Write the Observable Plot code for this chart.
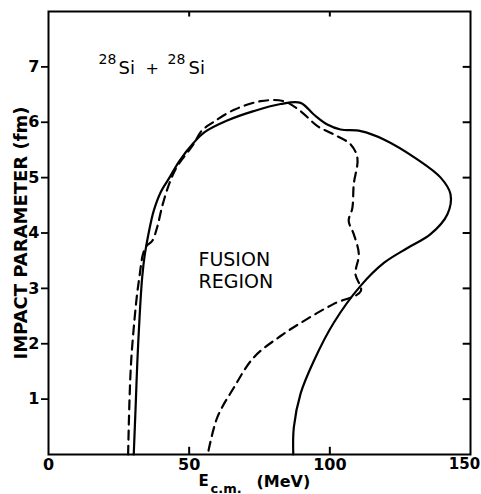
<!DOCTYPE html>
<html><head><meta charset="utf-8">
<script src="https://cdn.jsdelivr.net/npm/d3@7"></script>
<script src="https://cdn.jsdelivr.net/npm/@observablehq/plot@0.6"></script>
<style>body{margin:0;background:#fff}</style>
</head><body><div id="chart"></div>
<script>
// Tick values
const xTicks = [0, 50, 100, 150];
const yTicks = [1, 2, 3, 4, 5, 6, 7];

// Solid curve (E_cm in MeV, impact parameter in fm), in drawing order
const solidE = [30.3, 31.0, 31.6, 32.5, 33.3, 34.2, 35.6, 37.4, 40.0, 43.0, 46.5, 51.6, 55.5, 63.5, 72.9, 82.5, 89.6, 94.3, 99.1, 103.8, 111.0, 119.2, 131.1, 139.4, 142.9, 141.8, 135.8, 127.6, 119.2, 111.0, 101.4, 94.3, 89.6, 87.2, 87.0];
const solidB = [0.0, 0.9, 1.7, 2.6, 3.2, 3.6, 4.0, 4.4, 4.75, 5.0, 5.3, 5.63, 5.82, 6.03, 6.2, 6.33, 6.35, 6.14, 5.96, 5.87, 5.84, 5.69, 5.33, 5.0, 4.7, 4.34, 3.98, 3.73, 3.46, 3.05, 2.38, 1.69, 1.1, 0.49, 0.0];

// Dashed curve, in drawing order
const dashE = [28.3, 28.8, 29.4, 30.5, 31.5, 32.3, 33.5, 34.6, 36.9, 38.6, 40.5, 43.0, 45.7, 51.5, 54.5, 58.5, 65.8, 75.4, 83.6, 89.6, 95.6, 101.4, 107.4, 109.8, 108.5, 108.0, 106.7, 108.5, 110.3, 109.1, 111.0, 101.4, 92.0, 82.5, 72.9, 65.8, 60.0, 56.6];
const dashB = [0.0, 1.0, 1.7, 2.4, 2.9, 3.2, 3.6, 3.75, 3.86, 4.1, 4.5, 4.9, 5.2, 5.6, 5.85, 6.0, 6.22, 6.38, 6.38, 6.2, 5.93, 5.78, 5.6, 5.35, 4.88, 4.45, 4.22, 3.98, 3.62, 3.26, 2.95, 2.72, 2.45, 2.14, 1.75, 1.2, 0.67, 0.0];

// Text
const xLabelMain = "E";
const xLabelSub = "c.m.";
const xLabelUnit = "(MeV)";
const yLabel = "IMPACT PARAMETER (fm)";
const regionLines = ["FUSION", "REGION"];
const regionAt = [{e: 53.3, b: 3.41}, {e: 53.3, b: 3.01}];
const reactionParts = ["28", "Si", "+", "28", "Si"];
const reactionSup = [true, false, false, true, false];
const reactionAt = {e: 17.8, b: 6.865};

const solid = solidE.map((e, i) => ({e, b: solidB[i]}));
const dashed = dashE.map((e, i) => ({e, b: dashB[i]}));

const font = "DejaVu Sans, Verdana, sans-serif";
const partOffsets = [0, 20, 47, 69, 90];

const reactionMarks = reactionParts.map((t, i) =>
  Plot.text([t], {x: reactionAt.e, y: reactionAt.b, text: d => d, textAnchor: "start", lineAnchor: "bottom",
    dx: partOffsets[i], dy: reactionSup[i] ? -10 : 0, fontSize: reactionSup[i] ? 14 : (t === "+" ? 16 : 18)})
);
const regionMarks = regionLines.map((t, i) =>
  Plot.text([t], {x: regionAt[i].e, y: regionAt[i].b, text: d => d, textAnchor: "start", lineAnchor: "bottom", fontSize: 19})
);

const plot = Plot.plot({
  width: 481,
  height: 494,
  marginTop: 11,
  marginRight: 11,
  marginBottom: 40,
  marginLeft: 48,
  style: {fontFamily: font, background: "#fff", color: "#000"},
  x: {domain: [0, 150]},
  y: {domain: [0, 8]},
  marks: [
    Plot.frame({stroke: "#000", strokeWidth: 2}),
    Plot.axisY({ticks: yTicks, tickSize: 7, tickPadding: 2, fontSize: 16, fontWeight: "bold", label: null, strokeWidth: 1.8}),
    Plot.axisX({ticks: xTicks.slice(0, -1), tickSize: 0, tickPadding: 4, fontSize: 16, fontWeight: "bold", label: null}),
    Plot.axisX({ticks: xTicks.slice(-1), tickSize: 0, tickPadding: 4, fontSize: 15, fontWeight: "bold", label: null, dx: -6}),
    // inward ticks on bottom, top and right
    Plot.ruleX(xTicks.slice(1, -1), {x: d => d, y1: 0, y2: 0.13, stroke: "#000", strokeWidth: 2}),
    Plot.ruleX(xTicks.slice(1, -1), {x: d => d, y1: 8, y2: 7.9, stroke: "#000", strokeWidth: 2}),
    Plot.ruleY(yTicks, {y: d => d, x1: 150, x2: 147.4, stroke: "#000", strokeWidth: 2}),
    // curves
    Plot.line(solid, {x: "e", y: "b", curve: "catmull-rom", stroke: "#000", strokeWidth: 2.2}),
    Plot.line(dashed, {x: "e", y: "b", curve: "catmull-rom", stroke: "#000", strokeWidth: 2.2, strokeDasharray: "9,6"}),
    // axis labels
    Plot.text([yLabel], {text: d => d, frameAnchor: "left", textAnchor: "middle", lineAnchor: "middle", rotate: -90, dx: -27, fontSize: 18, fontWeight: "bold"}),
    Plot.text([xLabelMain], {text: d => d, frameAnchor: "bottom", textAnchor: "start", lineAnchor: "bottom", dx: -61, dy: 31, fontSize: 15, fontWeight: "bold"}),
    Plot.text([xLabelSub], {text: d => d, frameAnchor: "bottom", textAnchor: "start", lineAnchor: "bottom", dx: -49, dy: 38, fontSize: 13, fontWeight: "bold"}),
    Plot.text([xLabelUnit], {text: d => d, frameAnchor: "bottom", textAnchor: "start", lineAnchor: "bottom", dx: -3, dy: 32, fontSize: 16, fontWeight: "bold"}),
    // annotations
    ...reactionMarks,
    ...regionMarks
  ]
});

document.getElementById("chart").appendChild(plot);
</script>
</body></html>
